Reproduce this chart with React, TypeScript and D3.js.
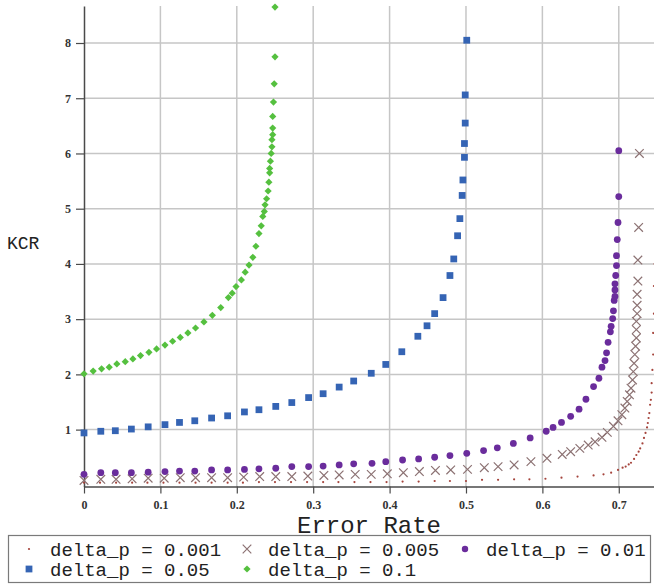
import { useRef, useEffect } from 'react';
import * as d3 from 'd3';

// [error rate, KCR]
const dp001 = [
  [0, 0.04], [0.021, 0.04], [0.042, 0.04], [0.063, 0.04], [0.083, 0.04], [0.104, 0.04], [0.125, 0.04],
  [0.146, 0.04], [0.167, 0.04], [0.188, 0.04], [0.208, 0.04], [0.229, 0.05], [0.25, 0.05], [0.271, 0.05],
  [0.292, 0.05], [0.313, 0.05], [0.333, 0.05], [0.354, 0.05], [0.375, 0.05], [0.396, 0.05], [0.417, 0.06],
  [0.438, 0.06], [0.459, 0.07], [0.479, 0.07], [0.5, 0.07], [0.521, 0.09], [0.542, 0.09], [0.563, 0.1],
  [0.583, 0.1], [0.604, 0.11], [0.625, 0.13], [0.646, 0.15], [0.667, 0.17], [0.68, 0.19], [0.69, 0.22],
  [0.699, 0.27], [0.705, 0.31], [0.709, 0.33], [0.713, 0.37], [0.716, 0.4], [0.72, 0.47], [0.723, 0.54],
  [0.726, 0.6], [0.728, 0.66], [0.731, 0.75], [0.733, 0.85], [0.735, 0.94], [0.737, 1.04], [0.738, 1.12],
  [0.739, 1.21], [0.74, 1.3], [0.741, 1.45], [0.742, 1.54], [0.743, 1.67], [0.743, 1.84], [0.744, 2.08],
  [0.745, 2.36], [0.745, 2.75], [0.746, 3.1], [0.746, 3.6], [0.747, 4.0],
];

const dp005 = [
  [0, 0.08], [0.022, 0.1], [0.042, 0.1], [0.063, 0.11], [0.084, 0.12], [0.105, 0.12], [0.126, 0.13],
  [0.146, 0.13], [0.167, 0.13], [0.188, 0.13], [0.209, 0.14], [0.23, 0.15], [0.251, 0.15], [0.272, 0.15],
  [0.293, 0.16], [0.314, 0.17], [0.334, 0.18], [0.355, 0.19], [0.376, 0.19], [0.397, 0.2], [0.418, 0.22],
  [0.439, 0.24], [0.46, 0.26], [0.48, 0.27], [0.502, 0.28], [0.524, 0.31], [0.542, 0.33], [0.563, 0.36],
  [0.585, 0.42], [0.606, 0.48], [0.626, 0.55], [0.637, 0.6], [0.649, 0.66], [0.66, 0.72], [0.669, 0.78],
  [0.678, 0.86], [0.685, 0.95], [0.693, 1.06], [0.699, 1.16], [0.704, 1.27], [0.708, 1.39], [0.711, 1.51],
  [0.714, 1.63], [0.716, 1.75], [0.718, 1.9], [0.719, 2.05], [0.72, 2.2], [0.721, 2.36], [0.722, 2.51],
  [0.723, 2.66], [0.723, 2.81], [0.723, 2.96], [0.724, 3.1], [0.724, 3.25], [0.724, 3.45], [0.725, 3.69],
  [0.725, 4.07], [0.726, 4.66], [0.727, 6.0],
];

const dp01 = [
  [0, 0.19], [0.022, 0.22], [0.041, 0.22], [0.062, 0.22], [0.084, 0.23], [0.106, 0.24], [0.125, 0.25],
  [0.145, 0.25], [0.167, 0.27], [0.188, 0.27], [0.21, 0.28], [0.229, 0.29], [0.251, 0.3], [0.272, 0.33],
  [0.294, 0.33], [0.313, 0.34], [0.334, 0.36], [0.353, 0.38], [0.377, 0.39], [0.395, 0.42], [0.417, 0.45],
  [0.438, 0.47], [0.459, 0.5], [0.479, 0.53], [0.501, 0.57], [0.523, 0.62], [0.541, 0.67], [0.562, 0.75],
  [0.584, 0.85], [0.605, 0.97], [0.614, 1.04], [0.625, 1.13], [0.637, 1.24], [0.648, 1.37], [0.657, 1.55],
  [0.667, 1.78], [0.674, 1.93], [0.678, 2.13], [0.682, 2.25], [0.684, 2.39], [0.686, 2.58], [0.689, 2.77],
  [0.69, 2.87], [0.692, 3.01], [0.693, 3.15], [0.694, 3.34], [0.695, 3.41], [0.695, 3.53], [0.695, 3.64],
  [0.696, 3.79], [0.697, 3.97], [0.697, 4.15], [0.698, 4.44], [0.699, 4.75], [0.7, 5.22], [0.7, 6.05],
];

const dp05 = [
  [0, 0.94], [0.022, 0.97], [0.041, 0.98], [0.062, 1.01], [0.084, 1.05], [0.106, 1.09], [0.125, 1.13],
  [0.145, 1.16], [0.167, 1.21], [0.188, 1.25], [0.21, 1.32], [0.229, 1.36], [0.251, 1.42], [0.272, 1.49],
  [0.294, 1.58], [0.313, 1.65], [0.334, 1.77], [0.353, 1.88], [0.376, 2.02], [0.395, 2.18], [0.416, 2.41],
  [0.437, 2.69], [0.449, 2.88], [0.459, 3.1], [0.47, 3.39], [0.479, 3.79], [0.484, 4.09], [0.489, 4.51],
  [0.492, 4.82], [0.495, 5.24], [0.496, 5.52], [0.498, 5.93], [0.498, 6.18], [0.499, 6.55], [0.499, 7.06],
  [0.501, 8.05],
];

const dp1 = [
  [0, 2.01], [0.012, 2.06], [0.023, 2.1], [0.033, 2.13], [0.043, 2.19], [0.054, 2.23], [0.064, 2.28],
  [0.074, 2.34], [0.085, 2.4], [0.095, 2.46], [0.106, 2.53], [0.116, 2.6], [0.126, 2.67], [0.136, 2.75],
  [0.146, 2.84], [0.157, 2.95], [0.168, 3.07], [0.179, 3.21], [0.189, 3.39], [0.194, 3.47], [0.199, 3.59],
  [0.206, 3.71], [0.211, 3.85], [0.216, 3.98], [0.221, 4.12], [0.225, 4.32], [0.229, 4.55], [0.232, 4.69],
  [0.234, 4.86], [0.236, 4.95], [0.237, 5.07], [0.239, 5.18], [0.241, 5.32], [0.242, 5.48], [0.243, 5.65],
  [0.243, 5.73], [0.244, 5.86], [0.245, 6.0], [0.246, 6.12], [0.246, 6.25], [0.247, 6.34], [0.247, 6.46],
  [0.247, 6.67], [0.248, 6.93], [0.249, 7.26], [0.25, 7.75], [0.25, 8.65],
];

const xTicks = [0, 0.1, 0.2, 0.3, 0.4, 0.5, 0.6, 0.7];
const yTicks = [1, 2, 3, 4, 5, 6, 7, 8];
const legendLabels = ['delta_p = 0.001', 'delta_p = 0.005', 'delta_p = 0.01', 'delta_p = 0.05', 'delta_p = 0.1'];

const COLORS = {
  dot: '#a5443c',
  cross: '#8c7273',
  circle: '#6a2c9c',
  square: '#3564b4',
  diamond: '#55c03f',
};

export default function App() {
  const ref = useRef<SVGSVGElement>(null);

  useEffect(() => {
    if (!ref.current) return;
    const width = 654;
    const height = 586;

    const svg = d3.select(ref.current);
    svg.selectAll('*').remove();

    const x = d3.scaleLinear().domain([0, 0.7461]).range([84, 654]);
    const y = d3.scaleLinear().domain([-0.03, 8.67]).range([486.5, 6]);

    svg.append('rect').attr('width', width).attr('height', height).attr('fill', 'white');

    // grid
    const grid = svg.append('g').attr('stroke', '#c6c6c6').attr('stroke-width', 1.5);
    grid.selectAll('line.v')
      .data(xTicks.slice(1))
      .enter()
      .append('line')
      .attr('x1', (d) => x(d)).attr('x2', (d) => x(d))
      .attr('y1', y.range()[1]).attr('y2', y.range()[0]);
    grid.selectAll('line.h')
      .data(yTicks)
      .enter()
      .append('line')
      .attr('x1', x.range()[0]).attr('x2', x.range()[1])
      .attr('y1', (d) => y(d)).attr('y2', (d) => y(d));

    // axes
    const yAxis = svg.append('g')
      .attr('transform', `translate(${x(0)},0)`)
      .call(d3.axisLeft(y).tickValues(yTicks).tickSize(8).tickSizeOuter(0).tickPadding(5).tickFormat(d3.format('d')));
    const xAxis = svg.append('g')
      .attr('transform', `translate(0,${y.range()[0]})`)
      .call(d3.axisBottom(x).tickValues(xTicks).tickSize(7).tickSizeOuter(0).tickPadding(7).tickFormat((d) => String(d)));

    [yAxis, xAxis].forEach((ax) => {
      ax.select('.domain').attr('stroke', '#4a4a4a').attr('stroke-width', 1.5);
      ax.selectAll('.tick line').attr('stroke', '#4a4a4a').attr('stroke-width', 1.2);
      ax.selectAll('.tick text')
        .attr('fill', '#333')
        .style('font-family', '"Liberation Serif", serif')
        .style('font-size', '12px')
        .style('font-weight', 'bold');
    });

    // marks
    const marks = svg.append('g');

    marks.selectAll('circle.dot')
      .data(dp001)
      .enter()
      .append('circle')
      .attr('cx', (d) => x(d[0]))
      .attr('cy', (d) => y(d[1]))
      .attr('r', 1.1)
      .attr('fill', COLORS.dot);

    const crossR = 4.3;
    marks.selectAll('path.cross')
      .data(dp005)
      .enter()
      .append('path')
      .attr('d', (d) => {
        const cx = x(d[0]);
        const cy = y(d[1]);
        return `M${cx - crossR},${cy - crossR}L${cx + crossR},${cy + crossR}M${cx - crossR},${cy + crossR}L${cx + crossR},${cy - crossR}`;
      })
      .attr('stroke', COLORS.cross)
      .attr('stroke-width', 1.2)
      .attr('fill', 'none');

    marks.selectAll('circle.purple')
      .data(dp01)
      .enter()
      .append('circle')
      .attr('cx', (d) => x(d[0]))
      .attr('cy', (d) => y(d[1]))
      .attr('r', 3.4)
      .attr('fill', COLORS.circle);

    const square = d3.symbol().type(d3.symbolSquare).size(46);
    marks.selectAll('path.square')
      .data(dp05)
      .enter()
      .append('path')
      .attr('d', square)
      .attr('transform', (d) => `translate(${x(d[0])},${y(d[1])})`)
      .attr('fill', COLORS.square);

    const diamond = d3.symbol().type(d3.symbolSquare).size(26);
    marks.selectAll('path.diamond')
      .data(dp1)
      .enter()
      .append('path')
      .attr('d', diamond)
      .attr('transform', (d) => `translate(${x(d[0])},${y(d[1])}) rotate(45)`)
      .attr('fill', COLORS.diamond);

    // axis titles
    svg.append('text')
      .attr('x', 7)
      .attr('y', 249)
      .style('font-family', '"Liberation Mono", monospace')
      .style('font-size', '18px')
      .attr('fill', '#222')
      .text('KCR');

    svg.append('text')
      .attr('x', 369)
      .attr('y', 533)
      .attr('text-anchor', 'middle')
      .style('font-family', '"Liberation Mono", monospace')
      .style('font-size', '24px')
      .attr('fill', '#222')
      .text('Error Rate');

    // legend
    const legend = svg.append('g');
    legend.append('rect')
      .attr('x', 8.5).attr('y', 535.5)
      .attr('width', 642).attr('height', 47)
      .attr('fill', 'white')
      .attr('stroke', '#7a7a7a')
      .attr('stroke-width', 1.2);

    const colX = [29, 247, 465];
    const rowY = [549, 569];
    const items = legendLabels.map((label, i) => ({
      label,
      mx: colX[i % 3],
      my: rowY[Math.floor(i / 3)],
      kind: ['dot', 'cross', 'circle', 'square', 'diamond'][i],
    }));

    items.forEach((it) => {
      const g = legend.append('g').attr('transform', `translate(${it.mx},${it.my})`);
      if (it.kind === 'dot') g.append('circle').attr('r', 1.1).attr('fill', COLORS.dot);
      if (it.kind === 'cross') {
        g.append('path')
          .attr('d', `M${-crossR},${-crossR}L${crossR},${crossR}M${-crossR},${crossR}L${crossR},${-crossR}`)
          .attr('stroke', COLORS.cross).attr('stroke-width', 1.2);
      }
      if (it.kind === 'circle') g.append('circle').attr('r', 3.2).attr('fill', COLORS.circle);
      if (it.kind === 'square') g.append('path').attr('d', square).attr('fill', COLORS.square);
      if (it.kind === 'diamond') g.append('path').attr('d', diamond).attr('transform', 'rotate(45)').attr('fill', COLORS.diamond);
      g.append('text')
        .attr('x', 21)
        .attr('dy', '0.35em')
        .style('font-family', '"Liberation Mono", monospace')
        .style('font-size', '19px')
        .attr('fill', '#222')
        .text(it.label);
    });
  }, []);

  return (
    <svg
      ref={ref}
      width={654}
      height={586}
      style={{ position: 'absolute', left: 0, top: 0, display: 'block' }}
    />
  );
}
